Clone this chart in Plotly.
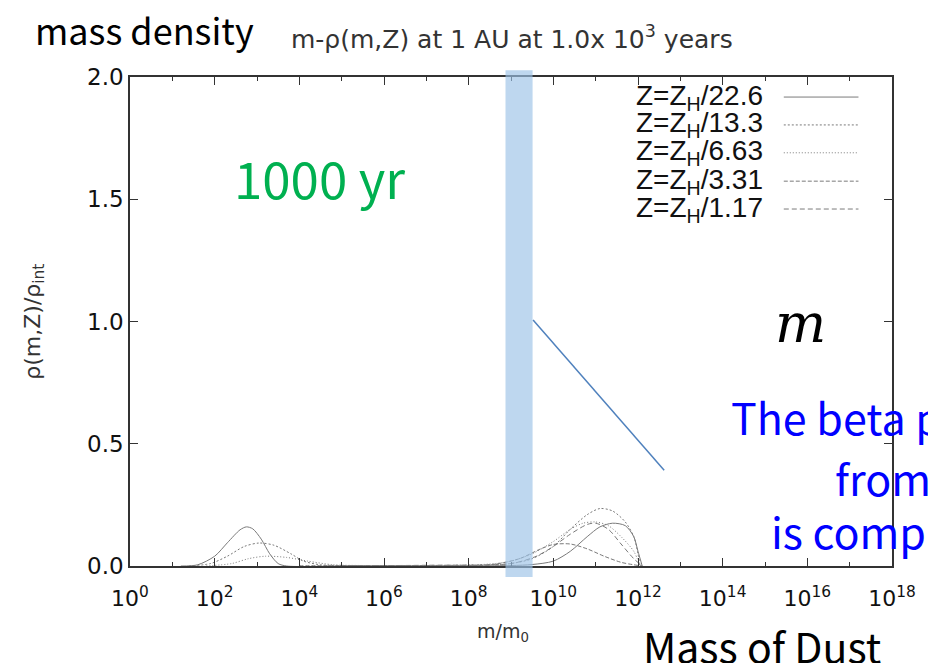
import plotly.graph_objects as go

# ---- data (log10 of m/m0 and rho/rho_int) ----
labels = ["Z=Z<sub>H</sub>/22.6", "Z=Z<sub>H</sub>/13.3", "Z=Z<sub>H</sub>/6.63",
          "Z=Z<sub>H</sub>/3.31", "Z=Z<sub>H</sub>/1.17"]

logm_226 = [1.2, 1.6, 2.0, 2.3, 2.6, 2.75, 2.9, 3.1, 3.3, 3.5, 3.7, 5.0, 7.0, 9.0, 9.5, 10.0, 10.4, 10.8, 11.1, 11.4, 11.7, 11.9, 12.0, 12.1]
rho_226 = [0.0, 0.005, 0.04, 0.095, 0.148, 0.16, 0.152, 0.11, 0.05, 0.01, 0.0, 0.0, 0.0, 0.002, 0.006, 0.02, 0.06, 0.12, 0.16, 0.175, 0.165, 0.12, 0.06, 0.0]

logm_133 = [1.4, 1.9, 2.3, 2.7, 3.05, 3.4, 3.8, 4.1, 4.5, 5.0, 7.0, 8.5, 9.0, 9.5, 10.0, 10.4, 10.8, 11.1, 11.4, 11.7, 11.9, 12.0, 12.05]
rho_133 = [0.0, 0.01, 0.04, 0.08, 0.094, 0.085, 0.05, 0.02, 0.005, 0.002, 0.002, 0.005, 0.01, 0.03, 0.08, 0.15, 0.21, 0.235, 0.225, 0.18, 0.12, 0.05, 0.0]

logm_663 = [1.8, 2.4, 2.8, 3.2, 3.7, 4.2, 4.8, 5.5, 7.0, 8.5, 9.0, 9.5, 10.0, 10.4, 10.7, 11.0, 11.3, 11.6, 11.9, 12.05]
rho_663 = [0.0, 0.01, 0.03, 0.04, 0.035, 0.02, 0.005, 0.002, 0.002, 0.008, 0.02, 0.05, 0.1, 0.15, 0.175, 0.18, 0.165, 0.12, 0.06, 0.0]

logm_331 = [4.0, 6.0, 8.5, 9.2, 9.7, 10.0, 10.4, 10.8, 11.2, 11.6, 11.9, 12.1]
rho_331 = [0.001, 0.002, 0.005, 0.03, 0.07, 0.088, 0.09, 0.07, 0.04, 0.015, 0.005, 0.0]

logm_117 = [5.0, 7.0, 9.0, 9.6, 10.0, 10.4, 10.8, 11.0, 11.3, 11.6, 11.9, 12.1]
rho_117 = [0.001, 0.003, 0.01, 0.04, 0.08, 0.13, 0.17, 0.175, 0.15, 0.09, 0.03, 0.0]

series_logm = [logm_226, logm_133, logm_663, logm_331, logm_117]
series_rho = [rho_226, rho_133, rho_663, rho_331, rho_117]
dashes = ["solid", "2px,2px", "1px,2px", "4px,2px", "5px,3px"]

x_tick_exps = [0, 2, 4, 6, 8, 10, 12, 14, 16, 18]
x_tick_text = ["10<sup>%d</sup>" % e for e in x_tick_exps]
x_minor_exps = [1, 3, 5, 7, 9, 11, 13, 15, 17]
y_ticks = [0.0, 0.5, 1.0, 1.5, 2.0]
y_tick_text = ["0.0", "0.5", "1.0", "1.5", "2.0"]

bar_logm = [8.87, 9.51]

line_color = "#7a7a7a"
chart_font = "DejaVu Sans"

fig = go.Figure()
for lm, r, d, name in zip(series_logm, series_rho, dashes, labels):
    fig.add_trace(go.Scatter(
        x=[10 ** v for v in lm], y=r, mode="lines", name=name,
        line=dict(color=line_color, width=1, dash=d, shape="spline", smoothing=0.8),
        showlegend=False))

# custom legend (text left, line sample right)
row_y = [0.959, 0.902, 0.845, 0.787, 0.730]
for name, d, yy in zip(labels, dashes, row_y):
    fig.add_annotation(xref="paper", yref="paper", x=0.661, y=yy, text=name,
                       showarrow=False, xanchor="left", yanchor="middle",
                       font=dict(family="Liberation Sans", size=28, color="#111"))
    fig.add_shape(type="line", xref="paper", yref="paper", x0=0.858, x1=0.956,
                  y0=yy, y1=yy, line=dict(color=line_color, width=1, dash=d))

# blue highlight bar
fig.add_shape(type="rect", xref="x", yref="paper",
              x0=10 ** bar_logm[0], x1=10 ** bar_logm[1], y0=-0.0225, y1=1.014,
              fillcolor="rgba(155,194,230,0.65)", line=dict(width=0), layer="above")
# pointer line
fig.add_shape(type="line", xref="paper", yref="paper", x0=0.529, y0=0.503, x1=0.701, y1=0.196,
              line=dict(color="#4f81bd", width=1.5))

ann = [
    dict(x=0.0196, y=1.098, text="mass density", xanchor="center",
         font=dict(family="Noto Sans CJK JP", size=36, color="#000")),
    dict(x=0.5007, y=1.08, text="m-ρ(m,Z) at 1 AU at 1.0x 10<sup>3</sup> years", xanchor="center",
         font=dict(family=chart_font, size=25, color="#333")),
    dict(x=0.249, y=0.7955, text="1000 yr", xanchor="center",
         font=dict(family="Noto Sans CJK JP", size=51, color="#00b050")),
    dict(x=0.880, y=0.495, text="<i>m</i>", xanchor="center",
         font=dict(family="DejaVu Serif", size=54, color="#000")),
    dict(x=0.786, y=0.307, text="The beta p", xanchor="left",
         font=dict(family="Noto Sans CJK JP", size=43, color="#0000ff")),
    dict(x=0.923, y=0.182, text="from", xanchor="left",
         font=dict(family="Noto Sans CJK JP", size=43, color="#0000ff")),
    dict(x=0.838, y=0.0736, text="is comp", xanchor="left",
         font=dict(family="Noto Sans CJK JP", size=43, color="#0000ff")),
    dict(x=0.671, y=-0.1616, text="Mass of Dust", xanchor="left",
         font=dict(family="Noto Sans CJK JP", size=41, color="#000")),
    dict(x=0.489, y=-0.137, text="m/m<sub>0</sub>", xanchor="center",
         font=dict(family=chart_font, size=19, color="#333")),
    dict(x=-0.125, y=0.499, text="ρ(m,Z)/ρ<sub>int</sub>", xanchor="center", textangle=-90,
         font=dict(family=chart_font, size=22, color="#333")),
]
for a in ann:
    fig.add_annotation(xref="paper", yref="paper", showarrow=False, yanchor="middle", **a)

fig.update_layout(
    width=928, height=663,
    margin=dict(l=130, r=31, t=77, b=97),
    paper_bgcolor="white", plot_bgcolor="white",
    xaxis=dict(type="log", range=[0, 18], tickvals=[10 ** e for e in x_tick_exps],
               ticktext=x_tick_text, ticks="inside", ticklen=8, tickcolor="#333",
               showline=True, linecolor="#333", linewidth=1.5, mirror="ticks",
               showgrid=False, zeroline=False, ticklabeloverflow="allow",
               ticklabelstandoff=12,
               tickfont=dict(family=chart_font, size=22, color="#111"),
               minor=dict(tickvals=[10 ** e for e in x_minor_exps], ticks="inside",
                          ticklen=4, tickcolor="#333", showgrid=False)),
    yaxis=dict(range=[0, 2], tickvals=y_ticks, ticktext=y_tick_text,
               ticks="inside", ticklen=8, tickcolor="#333",
               showline=True, linecolor="#333", linewidth=1.5, mirror="ticks",
               showgrid=False, zeroline=False,
               tickfont=dict(family=chart_font, size=23, color="#111")),
)

fig.write_html("out.html", config={"displayModeBar": False},
               post_script="document.body.style.margin='0';"
                           "document.documentElement.style.overflow='hidden';")
